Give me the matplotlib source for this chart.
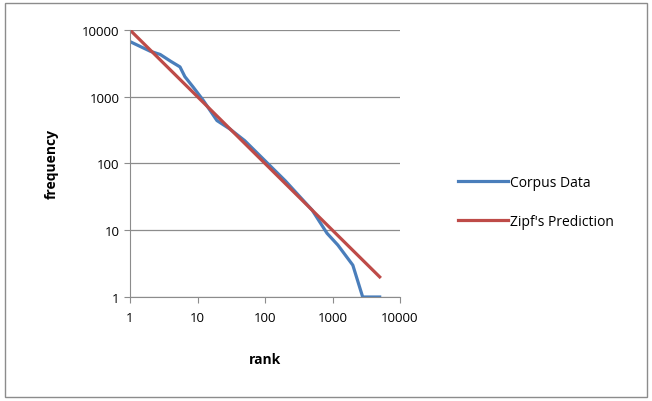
import matplotlib.pyplot as plt
from matplotlib.patches import Rectangle
from matplotlib.ticker import FixedLocator, FixedFormatter

# corpus data
corpus_rank = [1, 2, 2.8, 4, 5.5, 6.5, 8.6, 12, 19.4, 30, 50, 100, 200, 500, 830, 1200, 2000, 2800, 5000]
corpus_freq = [6700, 4800, 4300, 3400, 2800, 2000, 1400, 900, 440, 330, 220, 110, 55, 20, 9, 6, 3, 1, 1]

# Zipf prediction, straight line on log-log
zipf_rank = [1, 5000]
zipf_freq = [10000, 2]

ticks = [1, 10, 100, 1000, 10000]
tick_labels = ["1", "10", "100", "1000", "10000"]

plt.rcParams['font.family'] = ['Open Sans', 'DejaVu Sans']

fig = plt.figure(figsize=(6.52, 4.02), dpi=100)
fig.patches.append(Rectangle((0.008, 0.01), 0.984, 0.98, transform=fig.transFigure,
                             fill=False, edgecolor='#8c8c8c', linewidth=1.0))
ax = fig.add_axes([0.1994, 0.2587, 0.4141, 0.6642])

ax.plot(corpus_rank, corpus_freq, color='#4A7EBB', linewidth=2.3, label='Corpus Data')
ax.plot(zipf_rank, zipf_freq, color='#BE4B48', linewidth=2.3, label="Zipf's Prediction")

ax.set_xscale('log')
ax.set_yscale('log')
ax.set_xlim(1, 10000)
ax.set_ylim(1, 10000)
for a in (ax.xaxis, ax.yaxis):
    a.set_major_locator(FixedLocator(ticks))
    a.set_major_formatter(FixedFormatter(tick_labels))
    a.set_minor_locator(FixedLocator([]))

ax.grid(True, axis='y', color='#8c8c8c', linewidth=0.9)
ax.set_axisbelow(True)
for s in ('top', 'right'):
    ax.spines[s].set_visible(False)
for s in ('left', 'bottom'):
    ax.spines[s].set_color('#8c8c8c')
ax.tick_params(colors='#8c8c8c', labelcolor='black', labelsize=9.5, length=4, direction='out')
ax.tick_params(axis='x', pad=6)

ax.set_xlabel('rank', fontsize=10, fontweight='bold', labelpad=20)
ax.set_ylabel('frequency', fontsize=10, fontweight='bold', labelpad=17)

fig.legend(*ax.get_legend_handles_labels(), loc='center left', bbox_to_anchor=(0.692, 0.495),
           frameon=False, fontsize=10, borderpad=0, handlelength=3.6, handletextpad=0.1,
           labelspacing=1.75)

fig.savefig('out.png', dpi=100, facecolor='white')
